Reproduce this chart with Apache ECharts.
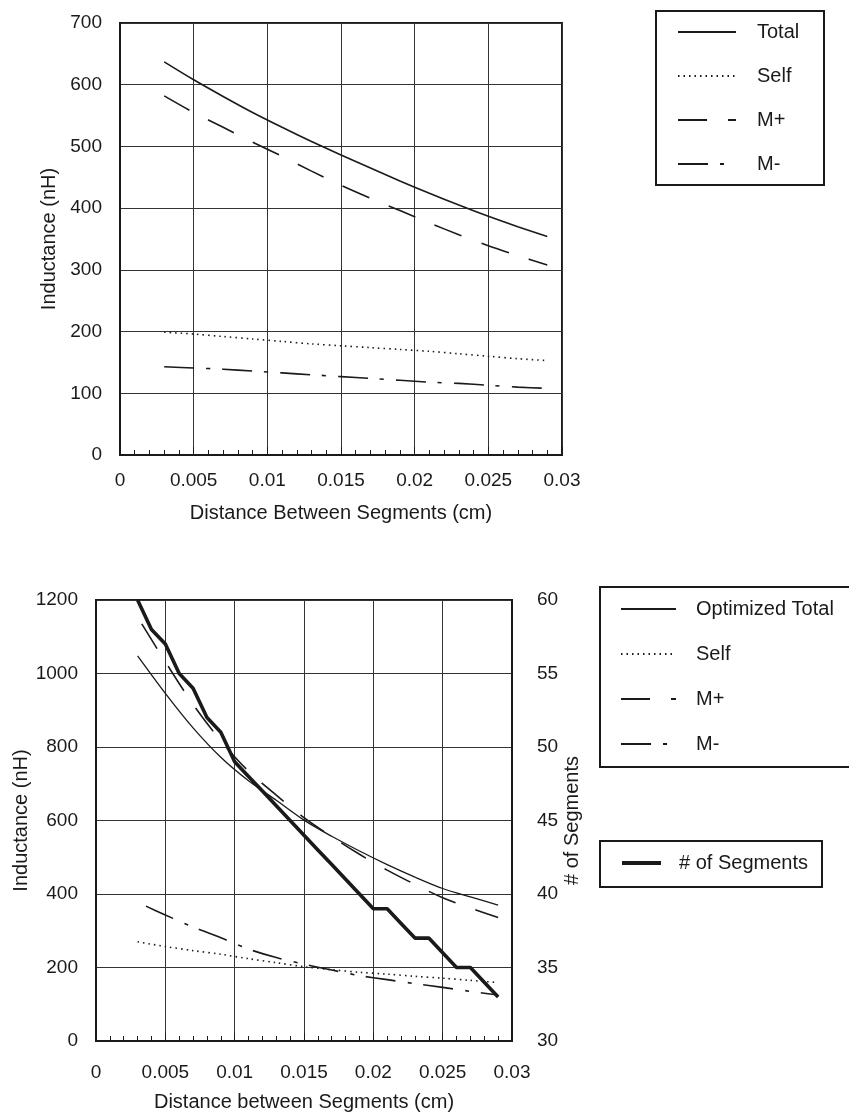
<!DOCTYPE html>
<html>
<head>
<meta charset="utf-8">
<script src="https://cdn.jsdelivr.net/npm/echarts@6/dist/echarts.min.js"></script>
<style>
  html, body { margin: 0; padding: 0; background: #fff; }
  #chart { width: 849px; height: 1112px; }
</style>
</head>
<body>
<div id="chart"></div>
<script>
// top chart: inductance vs distance
const topX      = [0.003, 0.005, 0.007, 0.009, 0.011, 0.013, 0.015, 0.017, 0.019, 0.021, 0.023, 0.025, 0.027, 0.029];
const topTotal  = [637, 608, 581, 555, 531, 508, 486, 465, 444, 424, 405, 387, 370, 354];
const topSelf   = [199, 196, 192, 188, 184, 180, 177, 174, 171, 168, 164, 160, 156, 153];
const topMPlus  = [582, 555, 531, 507, 484, 460, 437, 416, 396, 376, 357, 339, 323, 308];
const topMMinus = [143, 141, 139, 136, 133, 130, 127, 124, 121, 118, 116, 113, 110, 108];

// bottom chart: optimized
const botX       = [0.003, 0.005, 0.007, 0.009, 0.011, 0.013, 0.015, 0.017, 0.019, 0.021, 0.023, 0.025, 0.027, 0.029];
const botTotal   = [1048, 946, 852, 772, 708, 655, 601, 557, 517, 480, 446, 415, 392, 370];
const botSelf    = [270, 257, 246, 236, 224, 213, 202, 194, 187, 182, 176, 171, 165, 159];
const botMPlusX  = [0.0033, 0.005, 0.007, 0.009, 0.011, 0.013, 0.015, 0.017, 0.019, 0.021, 0.023, 0.025, 0.027, 0.029];
const botMPlus   = [1135, 1032, 916, 817, 734, 669, 608, 556, 508, 465, 426, 390, 362, 336];
const botMMinusX = [0.0036, 0.005, 0.007, 0.009, 0.011, 0.013, 0.015, 0.017, 0.019, 0.021, 0.023, 0.025, 0.027, 0.029];
const botMMinus  = [367, 343, 310, 281, 250, 227, 209, 193, 178, 167, 156, 146, 135, 125];

const segX     = [0.003, 0.004, 0.005, 0.006, 0.007, 0.008, 0.009, 0.010, 0.011, 0.012, 0.013, 0.014, 0.015, 0.016,
                  0.017, 0.018, 0.019, 0.020, 0.021, 0.022, 0.023, 0.024, 0.025, 0.026, 0.027, 0.028, 0.029];
const segCount = [60, 58, 57, 55, 54, 52, 51, 49, 48, 47, 46, 45, 44, 43, 42, 41, 40, 39, 39, 38, 37, 37, 36, 35, 35, 34, 33];

const xTicks = [0, 0.005, 0.01, 0.015, 0.02, 0.025, 0.03];

const pairs = (xs, ys) => xs.map((x, i) => [x, ys[i]]);

const FONT = 'Liberation Sans, Arial, Helvetica, sans-serif';
const INK = '#1a1a1a';
const DASH = [29, 21];
const DASHDOT = [30, 12, 4, 12];
const DOT = [1.5, 4];

function xAxisOpt(gridIndex, name, nameGap, margin) {
  return {
    type: 'value', gridIndex, min: 0, max: 0.03, interval: 0.005,
    name, nameLocation: 'middle', nameGap,
    nameTextStyle: { fontFamily: FONT, fontSize: 20, color: INK },
    axisLine: { show: true, lineStyle: { color: INK, width: 2 } },
    axisTick: { show: true, inside: true, length: 8, lineStyle: { color: INK } },
    minorTick: { show: true, splitNumber: 5, length: 5, lineStyle: { color: INK } },
    axisLabel: { fontFamily: FONT, fontSize: 19, color: INK, margin,
      formatter: v => xTicks.find(t => Math.abs(t - v) < 1e-9).toString() },
    splitLine: { show: true, lineStyle: { color: '#333', width: 1 } }
  };
}

function yAxisOpt(gridIndex, min, max, interval, name, nameGap) {
  return {
    type: 'value', gridIndex, min, max, interval,
    name, nameLocation: 'middle', nameGap, nameRotate: 90,
    nameTextStyle: { fontFamily: FONT, fontSize: 20, color: INK },
    axisLine: { show: true, lineStyle: { color: INK, width: 2 } },
    axisTick: { show: false },
    axisLabel: { fontFamily: FONT, fontSize: 19, color: INK, margin: 18, formatter: v => String(v) },
    splitLine: { show: true, lineStyle: { color: '#333', width: 1 } }
  };
}

function lineSeries(name, data, xi, yi, type, width, extra) {
  return Object.assign({
    name, type: 'line', data, xAxisIndex: xi, yAxisIndex: yi,
    symbol: 'none', smooth: 0.3, silent: true,
    itemStyle: { color: INK },
    lineStyle: { color: INK, width, type }
  }, extra || {});
}

const legendText = { fontFamily: FONT, fontSize: 20, color: INK, lineHeight: 20 };
const legendCommon = { orient: 'vertical', padding: 0, itemHeight: 20, selectedMode: false, itemStyle: { opacity: 0 } };

const option = {
  backgroundColor: '#fff',
  animation: false,
  grid: [
    { left: 120, top: 23, width: 442, height: 432, show: true, borderColor: INK, borderWidth: 2, outerBoundsMode: 'none' },
    { left: 96, top: 600, width: 416, height: 441, show: true, borderColor: INK, borderWidth: 2, outerBoundsMode: 'none' }
  ],
  xAxis: [
    xAxisOpt(0, 'Distance Between Segments (cm)', 48, 16),
    xAxisOpt(1, 'Distance between Segments (cm)', 51, 22)
  ],
  yAxis: [
    yAxisOpt(0, 0, 700, 100, 'Inductance (nH)', 54),
    yAxisOpt(1, 0, 1200, 200, 'Inductance (nH)', 57),
    Object.assign(yAxisOpt(1, 30, 60, 5, '# of Segments', 37), {
      position: 'right',
      splitLine: { show: false },
      axisLabel: { fontFamily: FONT, fontSize: 19, color: INK, margin: 25 }
    })
  ],
  legend: [
    Object.assign({ left: 677, top: 22, itemGap: 24, itemWidth: 58,
      data: ['Total', 'Self', 'M+', 'M-'],
      textStyle: Object.assign({ padding: [0, 0, 0, 16] }, legendText) }, legendCommon),
    Object.assign({ left: 620, top: 599, itemGap: 25, itemWidth: 55,
      data: ['Optimized Total', 'Self', 'M+', 'M-'],
      textStyle: Object.assign({ padding: [0, 0, 0, 15] }, legendText) }, legendCommon),
    Object.assign({ left: 620, top: 853, itemWidth: 39,
      data: ['# of Segments'],
      lineStyle: { width: 4 },
      textStyle: Object.assign({ padding: [0, 0, 0, 13] }, legendText) }, legendCommon)
  ],
  graphic: [
    { type: 'rect', shape: { x: 656, y: 11, width: 168, height: 174 }, style: { fill: 'none', stroke: INK, lineWidth: 2 } },
    { type: 'rect', shape: { x: 600, y: 587, width: 262, height: 180 }, style: { fill: 'none', stroke: INK, lineWidth: 2 } },
    { type: 'rect', shape: { x: 600, y: 841, width: 222, height: 46 }, style: { fill: 'none', stroke: INK, lineWidth: 2 } }
  ],
  series: [
    lineSeries('Total', pairs(topX, topTotal), 0, 0, 'solid', 1.6),
    lineSeries('Self', pairs(topX, topSelf), 0, 0, DOT, 1.6),
    lineSeries('M+', pairs(topX, topMPlus), 0, 0, DASH, 1.6),
    lineSeries('M-', pairs(topX, topMMinus), 0, 0, DASHDOT, 1.6),

    lineSeries('Optimized Total', pairs(botX, botTotal), 1, 1, 'solid', 1.3),
    lineSeries('Self', pairs(botX, botSelf), 1, 1, DOT, 1.6),
    lineSeries('M+', pairs(botMPlusX, botMPlus), 1, 1, DASH, 1.6),
    lineSeries('M-', pairs(botMMinusX, botMMinus), 1, 1, DASHDOT, 1.6),
    lineSeries('# of Segments', pairs(segX, segCount), 1, 2, 'solid', 3.6, { smooth: false, z: 5 })
  ]
};

const chart = echarts.init(document.getElementById('chart'));
chart.setOption(option);
</script>
</body>
</html>
